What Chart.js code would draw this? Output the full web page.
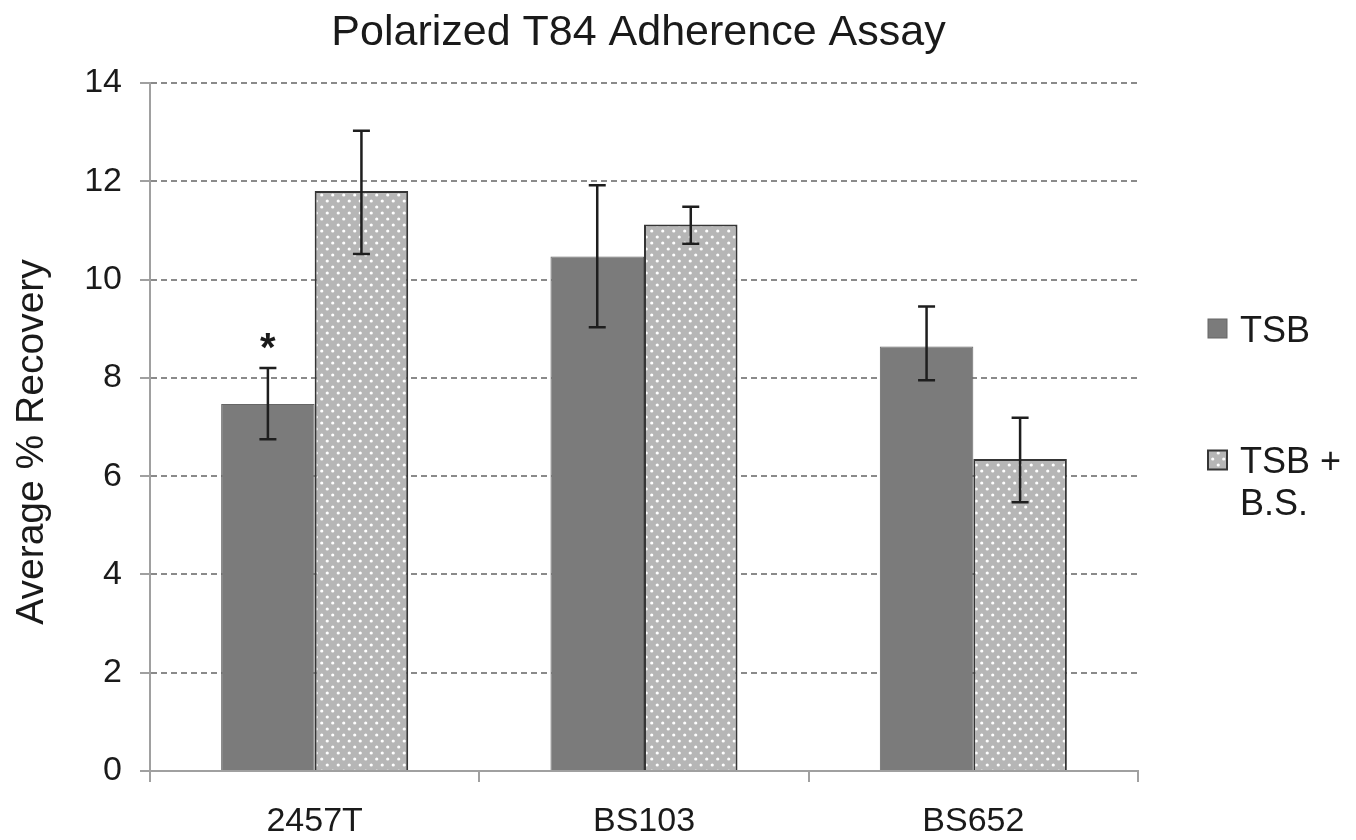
<!DOCTYPE html>
<html><head><meta charset="utf-8">
<script src="https://cdn.jsdelivr.net/npm/chart.js@4.4.1/dist/chart.umd.min.js"></script>
<style>html,body{margin:0;padding:0;background:#fff;}#wrap{width:1356px;height:840px;}</style>
</head><body><div id="wrap"><canvas id="c" width="1356" height="840"></canvas></div>
<script>
// ---- data ----
const categories = ['2457T', 'BS103', 'BS652'];
const seriesNames = ['TSB', 'TSB + B.S.'];
const legendLines = [['TSB'], ['TSB +', 'B.S.']];
const tsbValues = [7.47, 10.47, 8.64];
const tsbErrLow = [6.75, 9.03, 7.95];
const tsbErrHigh = [8.20, 11.92, 9.45];
const tsbBsValues = [11.80, 11.12, 6.35];
const tsbBsErrLow = [10.52, 10.73, 5.47];
const tsbBsErrHigh = [13.03, 11.48, 7.19];
const tsbMarks = ['*', '', ''];
const tsbBsMarks = ['', '', ''];
const yTicks = [0, 2, 4, 6, 8, 10, 12, 14];
const chartTitle = 'Polarized T84 Adherence Assay';
const yTitle = 'Average % Recovery';

// ---- styles ----
const FONT = "'Liberation Sans', Arial, sans-serif";
const TSB_COLOR = '#7b7b7b';
function dotPattern() {
  const c = document.createElement('canvas');
  c.width = 11; c.height = 12;
  const g = c.getContext('2d');
  g.fillStyle = '#b6b6b6'; g.fillRect(0, 0, 11, 12);
  g.fillStyle = '#ffffff';
  [[2.75, 3], [8.25, 9]].forEach(p => { g.beginPath(); g.arc(p[0], p[1], 1.6, 0, Math.PI * 2); g.fill(); });
  return g.createPattern(c, 'repeat');
}
const PATTERN = dotPattern();

const errorBars = {
  id: 'errorBars',
  afterDatasetsDraw(chart) {
    const ctx = chart.ctx, ys = chart.scales.y;
    chart.data.datasets.forEach((ds, di) => {
      const meta = chart.getDatasetMeta(di);
      meta.data.forEach((bar, i) => {
        const x = bar.x;
        const yl = ys.getPixelForValue(ds.errLow[i]);
        const yh = ys.getPixelForValue(ds.errHigh[i]);
        ctx.save();
        ctx.strokeStyle = '#1e1e1e';
        ctx.lineWidth = 2.5;
        ctx.beginPath();
        ctx.moveTo(x, yl); ctx.lineTo(x, yh);
        ctx.moveTo(x - 8.5, yl); ctx.lineTo(x + 8.5, yl);
        ctx.moveTo(x - 8.5, yh); ctx.lineTo(x + 8.5, yh);
        ctx.stroke();
        if (ds.marks && ds.marks[i]) {
          ctx.fillStyle = '#1a1a1a';
          ctx.font = 'bold 40px ' + FONT;
          ctx.textAlign = 'center';
          ctx.textBaseline = 'alphabetic';
          ctx.fillText(ds.marks[i], x, yh - 30 + 23);
        }
        ctx.restore();
      });
    });
  }
};

const texts = {
  id: 'texts',
  afterDraw(chart) {
    const ctx = chart.ctx;
    ctx.save();
    // title
    ctx.fillStyle = '#1a1a1a';
    ctx.font = '43px ' + FONT;
    ctx.textAlign = 'center';
    ctx.textBaseline = 'alphabetic';
    ctx.fillText(chartTitle, 638.5, 45);
    // y title
    ctx.save();
    ctx.translate(43, 442);
    ctx.rotate(-Math.PI / 2);
    ctx.font = '39px ' + FONT;
    ctx.fillText(yTitle, 0, 0);
    ctx.restore();
    // legend
    const itemY = [328.5, 460];
    chart.data.datasets.forEach((ds, di) => {
      const cy = itemY[di];
      ctx.fillStyle = ds.backgroundColor;
      ctx.fillRect(1208, cy - 9.5, 19, 19);
      ctx.strokeStyle = ds.borderColor;
      ctx.lineWidth = di === 0 ? 1 : 2;
      ctx.strokeRect(1208, cy - 9.5, 19, 19);
      ctx.fillStyle = '#1a1a1a';
      ctx.font = '36px ' + FONT;
      ctx.textAlign = 'left';
      legendLines[di].forEach((line, li) => {
        ctx.fillText(line, 1240, cy + 13 + li * 42);
      });
    });
    ctx.restore();
  }
};

new Chart(document.getElementById('c'), {
  type: 'bar',
  data: {
    labels: categories,
    datasets: [
      { label: seriesNames[0], data: tsbValues, errLow: tsbErrLow, errHigh: tsbErrHigh, marks: tsbMarks,
        backgroundColor: TSB_COLOR, borderColor: '#666666', borderWidth: 1,
        categoryPercentage: 0.568, barPercentage: 1.0 },
      { label: seriesNames[1], data: tsbBsValues, errLow: tsbBsErrLow, errHigh: tsbBsErrHigh, marks: tsbBsMarks,
        backgroundColor: PATTERN, borderColor: '#353535', borderWidth: 2,
        categoryPercentage: 0.568, barPercentage: 1.0 }
    ]
  },
  options: {
    responsive: false,
    animation: false,
    devicePixelRatio: 1,
    layout: { padding: { left: 0, right: 218, top: 83, bottom: 0 } },
    plugins: {
      legend: { display: false },
      tooltip: { enabled: false },
      title: { display: false }
    },
    scales: {
      x: {
        offset: true,
        grid: { display: true, drawOnChartArea: false, drawTicks: true, tickLength: 11, color: '#a0a0a0', lineWidth: 2, offset: true },
        border: { display: true, color: '#a0a0a0', width: 2 },
        ticks: { color: '#1a1a1a', font: { family: FONT, size: 34 }, padding: 19, maxRotation: 0 },
        afterFit(s) { s.height = 69; }
      },
      y: {
        min: 0, max: 14,
        afterBuildTicks(s) { s.ticks = yTicks.map(v => ({ value: v })); },
        grid: {
          color: c => (c.tick && c.tick.value === 0) ? 'rgba(0,0,0,0)' : '#8a8a8a',
          lineWidth: 2, tickLength: 10, tickColor: '#a0a0a0', drawTicks: true
        },
        border: { display: true, color: '#a0a0a0', width: 2, dash: [6, 4] },
        ticks: { color: '#1a1a1a', font: { family: FONT, size: 34 }, padding: 18 },
        afterFit(s) { s.width = 150; }
      }
    }
  },
  plugins: [errorBars, texts]
});
</script>
</body></html>
